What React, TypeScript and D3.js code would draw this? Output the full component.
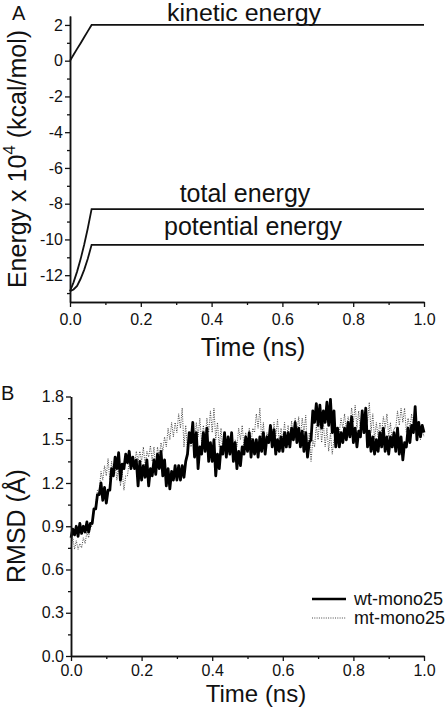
import React, { useEffect, useRef } from "react";
import * as d3 from "d3";

// ---------- Panel A data (energy, x10^4 kcal/mol) ----------
const ENERGY_TIME = [0, 0.01, 0.02, 0.03, 0.04, 0.05, 0.061, 1.0];
const KINETIC = [0, 0.33, 0.66, 0.98, 1.31, 1.64, 2.0, 2.0];
const TOTAL = [-12.9, -12.4, -11.8, -11.1, -10.3, -9.4, -8.3, -8.3];
const POTENTIAL = [-12.9, -12.8, -12.6, -12.2, -11.7, -11.1, -10.3, -10.3];

const ENERGY_MAJOR = [-12, -10, -8, -6, -4, -2, 0, 2];
const ENERGY_MINOR = [-13, -11, -9, -7, -5, -3, -1, 1];
const TIME_MAJOR = [0, 0.2, 0.4, 0.6, 0.8, 1.0];
const TIME_MINOR = [0.1, 0.3, 0.5, 0.7, 0.9];

// ---------- Panel B data (RMSD, Å), sampled every 0.005 ns ----------
const RMSD_STEP = 0.005;
const WT_MONO25 = [
  0.82, 0.88, 0.84, 0.90, 0.83, 0.92, 0.85, 0.90, 0.86, 0.93, 0.86, 0.92, 0.92, 1.02, 1.02, 1.12, 1.12, 1.20, 1.08, 1.17,
  1.06, 1.15, 1.15, 1.30, 1.25, 1.38, 1.30, 1.41, 1.22, 1.33, 1.30, 1.40, 1.34, 1.42, 1.30, 1.38, 1.30, 1.36, 1.18, 1.35,
  1.22, 1.32, 1.24, 1.36, 1.18, 1.30, 1.25, 1.36, 1.26, 1.40, 1.30, 1.42, 1.25, 1.36, 1.18, 1.30, 1.16, 1.28, 1.22, 1.32,
  1.22, 1.32, 1.22, 1.32, 1.24, 1.35, 1.40, 1.55, 1.48, 1.62, 1.38, 1.55, 1.30, 1.45, 1.40, 1.55, 1.42, 1.58, 1.35, 1.48,
  1.35, 1.50, 1.25, 1.40, 1.30, 1.45, 1.40, 1.55, 1.38, 1.52, 1.40, 1.55, 1.35, 1.48, 1.30, 1.42, 1.32, 1.45, 1.40, 1.52,
  1.42, 1.55, 1.38, 1.50, 1.40, 1.50, 1.38, 1.52, 1.42, 1.55, 1.40, 1.52, 1.48, 1.60, 1.45, 1.57, 1.40, 1.50, 1.42, 1.52,
  1.42, 1.55, 1.45, 1.55, 1.45, 1.58, 1.50, 1.62, 1.48, 1.58, 1.45, 1.56, 1.42, 1.55, 1.38, 1.48, 1.50, 1.70, 1.62, 1.75,
  1.60, 1.74, 1.58, 1.70, 1.62, 1.76, 1.60, 1.78, 1.55, 1.70, 1.45, 1.58, 1.45, 1.55, 1.48, 1.58, 1.50, 1.62, 1.52, 1.66,
  1.48, 1.58, 1.45, 1.56, 1.52, 1.70, 1.55, 1.72, 1.45, 1.56, 1.42, 1.52, 1.40, 1.50, 1.42, 1.55, 1.45, 1.58, 1.42, 1.52,
  1.40, 1.52, 1.45, 1.55, 1.42, 1.58, 1.40, 1.52, 1.36, 1.48, 1.45, 1.58, 1.48, 1.60, 1.55, 1.73, 1.50, 1.62, 1.52, 1.60,
  1.55,
];
const MT_MONO25 = [
  0.75, 0.82, 0.74, 0.80, 0.74, 0.78, 0.75, 0.82, 0.78, 0.86, 0.82, 0.90, 0.90, 1.00, 1.05, 1.15, 1.15, 1.28, 1.22, 1.32,
  1.25, 1.37, 1.22, 1.35, 1.25, 1.33, 1.22, 1.32, 1.18, 1.28, 1.15, 1.25, 1.25, 1.35, 1.30, 1.38, 1.32, 1.42, 1.35, 1.42,
  1.35, 1.45, 1.32, 1.42, 1.38, 1.46, 1.35, 1.45, 1.30, 1.45, 1.38, 1.48, 1.42, 1.52, 1.45, 1.58, 1.50, 1.62, 1.52, 1.62,
  1.55, 1.68, 1.58, 1.72, 1.45, 1.60, 1.42, 1.55, 1.45, 1.58, 1.48, 1.62, 1.52, 1.65, 1.48, 1.60, 1.50, 1.65, 1.55, 1.70,
  1.55, 1.72, 1.50, 1.62, 1.45, 1.58, 1.42, 1.55, 1.40, 1.52, 1.42, 1.55, 1.40, 1.50, 1.45, 1.58, 1.50, 1.60, 1.45, 1.55,
  1.45, 1.58, 1.48, 1.58, 1.55, 1.68, 1.58, 1.72, 1.50, 1.62, 1.45, 1.55, 1.48, 1.60, 1.50, 1.62, 1.52, 1.64, 1.48, 1.58,
  1.50, 1.62, 1.48, 1.60, 1.50, 1.63, 1.52, 1.65, 1.55, 1.66, 1.52, 1.65, 1.55, 1.67, 1.40, 1.55, 1.35, 1.50, 1.45, 1.60,
  1.50, 1.65, 1.48, 1.62, 1.45, 1.58, 1.42, 1.55, 1.40, 1.50, 1.45, 1.58, 1.55, 1.65, 1.58, 1.68, 1.55, 1.66, 1.60, 1.72,
  1.62, 1.74, 1.58, 1.70, 1.55, 1.66, 1.60, 1.72, 1.62, 1.76, 1.55, 1.68, 1.50, 1.62, 1.52, 1.62, 1.55, 1.66, 1.58, 1.68,
  1.52, 1.62, 1.48, 1.58, 1.58, 1.70, 1.60, 1.72, 1.62, 1.72, 1.55, 1.65, 1.58, 1.68, 1.55, 1.65, 1.52, 1.62, 1.50, 1.58,
  1.52,
];
const RMSD_MAJOR = [0, 0.3, 0.6, 0.9, 1.2, 1.5, 1.8];
const RMSD_MINOR = [0.15, 0.45, 0.75, 1.05, 1.35, 1.65];

const FONT = "'Liberation Sans', Arial, Helvetica, sans-serif";

export default function App() {
  const ref = useRef<SVGSVGElement>(null);

  const xA = d3.scaleLinear().domain([0, 1]).range([70, 424]);
  const yA = d3.scaleLinear().domain([-13.5, 2.5]).range([302, 16]);
  const xB = d3.scaleLinear().domain([0, 1]).range([71, 424]);
  const yB = d3.scaleLinear().domain([0, 1.8]).range([656, 396.5]);

  const energyLine = (vals: number[]) =>
    d3.line<number>().x((_, i) => xA(ENERGY_TIME[i])).y((d) => yA(d))(vals) || "";
  const rmsdLine = (vals: number[]) =>
    d3
      .line<number>()
      .x((_, i) => xB(Math.min(1, i * RMSD_STEP)))
      .y((d) => yB(d))(vals) || "";

  useEffect(() => {
    const svg = d3.select(ref.current);
    svg.selectAll(".ax").remove();
    const style = (g: any) => {
      g.selectAll("path").attr("stroke", "#111").attr("stroke-width", 1.5);
      g.selectAll("line").attr("stroke", "#111").attr("stroke-width", 1.3);
      g.selectAll("text").attr("fill", "#111").attr("font-family", FONT).attr("font-size", 16);
    };
    const add = (tr: string, axis: any) => {
      const g = svg.append("g").attr("class", "ax").attr("transform", tr).call(axis);
      style(g);
      return g;
    };
    // Panel A
    add("translate(0,302)", d3.axisBottom(xA).tickValues(TIME_MINOR).tickSize(3).tickSizeOuter(0).tickFormat(() => ""));
    add("translate(0,302)", d3.axisBottom(xA).tickValues(TIME_MAJOR).tickSize(5).tickPadding(6.5).tickSizeOuter(0).tickFormat(d3.format(".1f")));
    add("translate(70,0)", d3.axisLeft(yA).tickValues(ENERGY_MINOR).tickSize(3).tickSizeOuter(0).tickFormat(() => ""));
    add("translate(70,0)", d3.axisLeft(yA).tickValues(ENERGY_MAJOR).tickSize(5).tickPadding(2).tickSizeOuter(0).tickFormat((d: any) => String(d)));
    // Panel B
    add("translate(0,656)", d3.axisBottom(xB).tickValues(TIME_MINOR).tickSize(3).tickSizeOuter(0).tickFormat(() => ""));
    add("translate(0,656)", d3.axisBottom(xB).tickValues(TIME_MAJOR).tickSize(5).tickPadding(4).tickSizeOuter(0).tickFormat(d3.format(".1f")));
    add("translate(71,0)", d3.axisLeft(yB).tickValues(RMSD_MINOR).tickSize(3).tickSizeOuter(0).tickFormat(() => ""));
    add("translate(71,0)", d3.axisLeft(yB).tickValues(RMSD_MAJOR).tickSize(5).tickPadding(2).tickSizeOuter(0).tickFormat(d3.format(".1f")));
  }, []);

  return (
    <svg
      ref={ref}
      width={448}
      height={708}
      style={{ position: "absolute", left: 0, top: 0, background: "#fff" }}
      fontFamily={FONT}
    >
      <rect x={0} y={0} width={448} height={708} fill="#fff" />
      {/* Panel A */}
      <text x={12} y={20} fontSize={20} fill="#111">A</text>
      <path d={energyLine(KINETIC)} fill="none" stroke="#111" strokeWidth={1.8} />
      <path d={energyLine(TOTAL)} fill="none" stroke="#111" strokeWidth={1.8} />
      <path d={energyLine(POTENTIAL)} fill="none" stroke="#111" strokeWidth={1.8} />
      <text x={167} y={21} fontSize={23} textLength={154} lengthAdjust="spacingAndGlyphs" fill="#111">kinetic energy</text>
      <text x={245} y={202} fontSize={25} textAnchor="middle" fill="#111">total energy</text>
      <text x={253} y={235} fontSize={25} textAnchor="middle" fill="#111">potential energy</text>
      <text transform="translate(26,159) rotate(-90)" fontSize={25} textAnchor="middle" fill="#111">
        Energy x 10<tspan fontSize={17} dy={-11}>4</tspan>
        <tspan dy={11}> (kcal/mol)</tspan>
      </text>
      <text x={253} y={356} fontSize={25} textAnchor="middle" fill="#111">Time (ns)</text>

      {/* Panel B */}
      <text x={1} y={400} fontSize={20} fill="#111">B</text>
      <path d={rmsdLine(MT_MONO25)} fill="none" stroke="#333" strokeWidth={0.9} strokeDasharray="1 1.3" />
      <path d={rmsdLine(WT_MONO25)} fill="none" stroke="#000" strokeWidth={2.8} strokeLinejoin="round" />
      <text transform="translate(25,526) rotate(-90)" fontSize={25} textAnchor="middle" fill="#111">RMSD (Å)</text>
      <text x={256} y={702} fontSize={24} textAnchor="middle" fill="#111">Time (ns)</text>
      <line x1={312} x2={346} y1={599} y2={599} stroke="#000" strokeWidth={2.5} />
      <text x={354} y={605} fontSize={18} fill="#111">wt-mono25</text>
      <line x1={312} x2={346} y1={618} y2={618} stroke="#333" strokeWidth={0.9} strokeDasharray="1 1.3" />
      <text x={354} y={624} fontSize={18} fill="#111">mt-mono25</text>
    </svg>
  );
}
